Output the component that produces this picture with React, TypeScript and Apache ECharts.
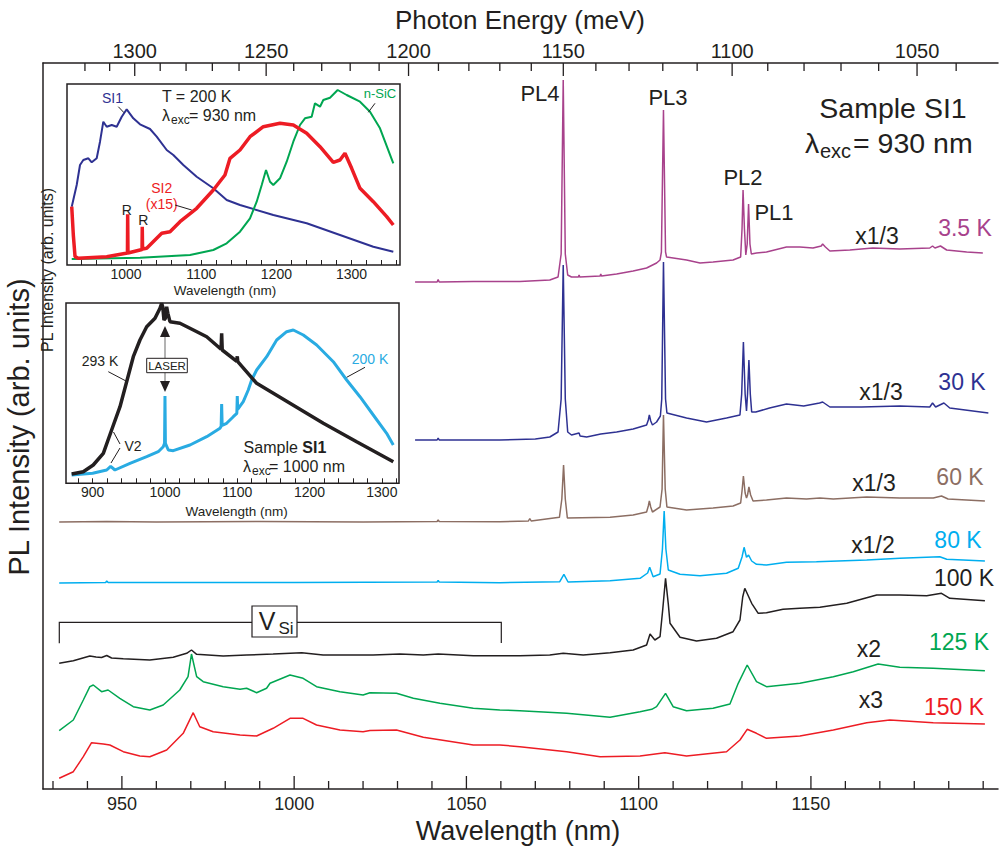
import React, { useEffect, useRef } from 'react';
import * as echarts from 'echarts';

const FONT = '"Liberation Sans", Arial, Helvetica, sans-serif';
const INK = '#231f20';
const HC = 1239841.98; // meV * nm

const C_MAG = '#a8428c';
const C_NAVY = '#2e3192';
const C_BROWN = '#8c6e63';
const C_CYAN = '#00aeef';
const C_GREEN = '#00a651';
const C_RED = '#ed1c24';
const C_BLACK = '#231f20';
const C_CYAN2 = '#29abe2';

// ---------- axes ----------
const MAIN_WL_MIN = 927.1;
const MAIN_WL_MAX = 1204.3;
const MAIN_Y_MAX = 726;
const bottomMajor = [950, 1000, 1050, 1100, 1150];
const bottomMinor = [930, 940, 950, 960, 970, 980, 990, 1000, 1010, 1020, 1030, 1040, 1050, 1060, 1070, 1080, 1090, 1100, 1110, 1120, 1130, 1140, 1150, 1160, 1170, 1180, 1190, 1200];
const energyMajor = [1300, 1250, 1200, 1150, 1100, 1050];
const energyMinor = [1320, 1310, 1300, 1290, 1280, 1270, 1260, 1250, 1240, 1230, 1220, 1210, 1200, 1190, 1180, 1170, 1160, 1150, 1140, 1130, 1120, 1110, 1100, 1090, 1080, 1070, 1060, 1050, 1040];

const in1Ticks = [940, 960, 980, 1000, 1020, 1040, 1060, 1080, 1100, 1120, 1140, 1160, 1180, 1200, 1220, 1240, 1260, 1280, 1300, 1320, 1340, 1360];
const in1Labels = [1000, 1100, 1200, 1300];
const in2Ticks = [880, 900, 920, 940, 960, 980, 1000, 1020, 1040, 1060, 1080, 1100, 1120, 1140, 1160, 1180, 1200, 1220, 1240, 1260, 1280, 1300, 1320];
const in2Labels = [900, 1000, 1100, 1200, 1300];

// ---------- main spectra [wavelength nm, intensity arb.] ----------
const t3_5K = [
  [1035.1, 507], [1041.5, 507], [1041.8, 509.5], [1042.1, 507], [1052.0, 507.5], [1065.5, 507.5], [1074.2, 509], [1076.6, 512], [1077.5, 535], [1078.1, 709], [1078.7, 535], [1079.4, 514], [1080.5, 512], [1082.5, 512], [1082.7, 514], [1082.9, 512], [1088.8, 513], [1089.0, 515], [1089.2, 513], [1093.6, 515], [1098.4, 518], [1102.3, 521], [1105.2, 526], [1106.2, 529], [1106.6, 537], [1107.2, 679], [1107.8, 537], [1108.1, 532], [1113.9, 529], [1117.8, 526], [1121.6, 527], [1127.4, 529], [1129.6, 532], [1130.0, 560], [1130.3, 599], [1130.7, 560], [1131.1, 534], [1131.5, 545], [1131.9, 585], [1132.3, 545], [1132.7, 535], [1134.2, 536], [1137.1, 537], [1142.9, 542], [1146.8, 542], [1150.6, 541], [1153.0, 543], [1153.4, 545], [1154.2, 542], [1155.5, 538], [1161.3, 539], [1168.0, 541], [1175.8, 540], [1184.5, 541], [1185.3, 543], [1186.0, 541], [1187.6, 543], [1189.4, 539], [1195.2, 537], [1199.9, 536],
];
const t30K = [
  [1035.1, 349], [1041.5, 349], [1041.8, 351], [1042.1, 349], [1059.7, 349], [1070.0, 350], [1074.2, 352], [1076.6, 357], [1077.5, 390], [1078.1, 524], [1078.7, 390], [1079.4, 357], [1080.5, 354], [1082.7, 356], [1083.0, 353], [1084.9, 352], [1089.0, 355], [1093.6, 357], [1098.4, 360], [1102.3, 364], [1102.8, 369], [1103.1, 374], [1103.5, 368], [1104.0, 364], [1105.2, 367], [1106.3, 373], [1106.7, 390], [1107.2, 527], [1107.8, 390], [1108.2, 376], [1113.9, 371], [1119.7, 367], [1125.5, 371], [1129.4, 374], [1129.9, 395], [1130.4, 447], [1130.9, 395], [1131.3, 378], [1131.6, 395], [1132.0, 429], [1132.4, 395], [1132.8, 377], [1134.0, 377], [1138.0, 381], [1142.9, 385], [1147.9, 383], [1152.5, 386], [1153.4, 387], [1155.5, 382], [1164.7, 382], [1175.8, 383], [1184.5, 382], [1185.3, 386], [1186.2, 382], [1188.6, 386], [1190.3, 381], [1201.5, 376],
];
const t60K = [
  [931.8, 267], [945.6, 267.5], [960.0, 267], [990.0, 267.5], [1020.0, 267], [1041.5, 267.5], [1041.8, 269], [1042.1, 267.5], [1059.7, 267.3], [1068.0, 268], [1068.4, 270.5], [1068.8, 268], [1077.0, 271.7], [1077.7, 290], [1078.2, 324], [1078.7, 290], [1079.3, 271], [1091.7, 271.7], [1098.4, 274], [1102.3, 277], [1102.8, 283], [1103.1, 288], [1103.5, 282], [1104.0, 277], [1106.2, 282], [1106.8, 300], [1107.2, 374], [1107.7, 300], [1108.2, 282], [1113.9, 279], [1121.6, 281], [1127.4, 283], [1129.6, 286], [1130.0, 298], [1130.4, 313], [1130.9, 296], [1131.3, 291], [1131.6, 294], [1132.0, 302], [1132.5, 294], [1133.2, 288], [1137.1, 289], [1142.9, 291], [1148.7, 290], [1152.6, 291], [1156.5, 290], [1166.2, 292], [1175.8, 291], [1185.5, 291], [1187.9, 293], [1189.8, 290], [1200.5, 288],
];
const t80K = [
  [931.8, 206], [945.3, 206.5], [945.6, 208], [946.0, 206.5], [970.0, 206.5], [1000.0, 206.5], [1041.5, 207], [1041.8, 208.5], [1042.1, 207], [1059.7, 206.3], [1077.1, 207.3], [1078.3, 214.7], [1079.5, 207], [1091.7, 208.3], [1100.4, 210.7], [1102.6, 216], [1103.2, 221.7], [1104.2, 212.3], [1106.2, 215], [1106.9, 240], [1107.4, 278], [1107.9, 240], [1108.6, 219], [1112.0, 214.7], [1117.8, 213.3], [1125.5, 215.7], [1128.9, 220.7], [1130.0, 232], [1130.6, 241.7], [1131.3, 231.7], [1131.9, 234], [1132.8, 228], [1134.2, 224.7], [1137.1, 224], [1142.9, 226.7], [1151.6, 227.3], [1166.2, 229], [1175.8, 230.7], [1187.4, 232.3], [1189.4, 229.7], [1200.5, 228],
];
const t100K = [
  [931.8, 125.7], [935.9, 128.3], [940.7, 133], [942.5, 132], [944.1, 131.5], [945.6, 133.5], [947.0, 131], [950.4, 130.3], [958.1, 129], [964.9, 131.7], [968.8, 135.7], [970.2, 139], [971.7, 134.7], [979.4, 133], [986.2, 134], [993.9, 135], [1002.2, 136.3], [1008.4, 134], [1022.9, 134], [1030.7, 135], [1037.5, 134], [1041.8, 135], [1052.0, 133.3], [1065.5, 133.3], [1074.2, 134], [1078.1, 135.7], [1083.9, 134], [1091.7, 136.3], [1098.4, 139], [1102.3, 144], [1103.3, 155], [1104.7, 149], [1106.2, 152.3], [1107.0, 180], [1107.8, 210.7], [1108.6, 185], [1109.1, 165.7], [1112.0, 151.7], [1116.8, 148], [1122.6, 150.7], [1127.4, 157.3], [1129.4, 169], [1130.2, 192], [1130.8, 200.7], [1132.8, 185.7], [1134.7, 175.7], [1137.1, 176.3], [1141.9, 179.7], [1146.8, 180.7], [1152.6, 181.7], [1160.4, 185.7], [1169.1, 194], [1175.8, 194], [1183.6, 193.3], [1187.9, 195.7], [1190.3, 190.7], [1200.5, 188.3],
];
const t125K = [
  [931.8, 58.3], [935.9, 69], [938.8, 89], [940.7, 102.3], [941.7, 104], [944.1, 97.3], [946.0, 99], [949.4, 90.7], [953.3, 82.3], [958.1, 79], [962.0, 84], [966.8, 99], [969.2, 112.3], [970.2, 135], [971.7, 112.3], [973.6, 107.3], [979.4, 102.3], [984.3, 99.7], [986.2, 100.7], [989.1, 96.3], [992.0, 100.7], [993.0, 105.7], [998.8, 114], [1002.6, 110.7], [1006.5, 102.3], [1013.3, 97.3], [1020.0, 94], [1022.0, 96.3], [1029.7, 95.7], [1034.6, 90.7], [1042.3, 85.7], [1052.0, 80.7], [1059.7, 79], [1065.5, 78.3], [1079.1, 75.7], [1091.7, 71.7], [1100.4, 77.3], [1103.8, 79.7], [1105.2, 82.3], [1107.8, 95.7], [1110.0, 82.3], [1113.9, 78.3], [1121.6, 80.7], [1126.5, 85], [1128.9, 105.7], [1131.5, 124], [1134.2, 107.3], [1137.1, 102.3], [1146.8, 105.7], [1156.5, 112.3], [1162.3, 117.3], [1169.5, 125], [1175.8, 121.7], [1185.5, 120.7], [1200.5, 118.3],
];
const t150K = [
  [931.8, 10.7], [935.9, 17.3], [938.8, 32.3], [941.2, 46.3], [944.6, 45], [946.5, 44], [950.4, 37.3], [955.2, 33], [958.1, 32.3], [963.0, 39], [967.8, 55.7], [970.7, 76.3], [972.6, 62.3], [976.5, 57.3], [984.3, 54], [989.1, 53], [993.9, 60.7], [998.8, 70.7], [1002.6, 70.7], [1006.5, 64], [1013.3, 59], [1020.0, 57.3], [1022.0, 58.5], [1029.7, 59], [1037.5, 51.7], [1052.0, 44], [1059.7, 44], [1065.5, 42.3], [1079.1, 37.3], [1088.8, 32.3], [1100.4, 33], [1107.6, 36.3], [1113.9, 33], [1125.5, 37.3], [1129.4, 49], [1131.5, 59.7], [1134.2, 55.7], [1137.1, 50.7], [1146.8, 53], [1156.5, 59], [1166.2, 66.3], [1172.9, 69], [1185.5, 66.3], [1200.5, 65],
];

// ---------- inset 1 (T = 200 K, 930 nm) ----------
const IN1_MIN = 921.5, IN1_MAX = 1364.4, IN1_YMAX = 181;
const si1 = [
  [927.8, 58.3], [934.4, 80], [938.8, 100], [943.2, 105], [949.9, 106.7], [954.4, 102.7], [961.0, 106.7], [965.4, 123.3], [969.8, 143.3], [974.3, 138.3], [981.0, 140], [987.6, 138.3], [994.3, 148.3], [1000.9, 155.7], [1009.7, 146.7], [1018.6, 140.7], [1031.9, 136], [1040.8, 128.3], [1054.1, 115], [1062.9, 110], [1076.2, 100], [1094.0, 88.3], [1116.1, 76.7], [1133.9, 65], [1151.6, 60], [1195.9, 50], [1240.3, 41.7], [1284.6, 30], [1328.9, 18.3], [1355.5, 13.3],
];
const si2x15 = [
  [927.8, 58.3], [929.9, 30], [932.2, 8.3], [936.6, 6.7], [974.3, 8.3], [1000.0, 11.7], [1001.9, 12], [1002.2, 50.7], [1002.6, 12], [1018.6, 15], [1021.3, 15.5], [1021.6, 38.3], [1022.0, 16], [1027.5, 16.7], [1040.8, 26.7], [1047.5, 31.7], [1058.5, 33.3], [1071.8, 43.3], [1094.0, 56.7], [1116.1, 75], [1131.6, 90], [1138.3, 106.7], [1151.6, 115], [1164.9, 128.3], [1182.6, 138.3], [1204.8, 141.7], [1222.5, 140], [1240.3, 131.7], [1258.0, 118.3], [1275.7, 102.7], [1284.6, 105], [1291.2, 111.7], [1300.1, 96.7], [1311.2, 76.7], [1328.9, 63.3], [1346.7, 48.3], [1355.5, 40],
];
const nSiC = [
  [927.8, 6], [1018.6, 7.3], [1085.1, 10], [1116.1, 15], [1133.9, 21.7], [1151.6, 33.3], [1164.9, 46.7], [1173.8, 63.3], [1180.5, 80], [1186.2, 95], [1191.5, 83.3], [1195.9, 80], [1204.8, 86.7], [1213.7, 103.3], [1222.5, 123.3], [1231.4, 140], [1238.0, 146.7], [1246.9, 148.3], [1251.3, 161.7], [1258.0, 158.3], [1262.4, 165], [1271.3, 167.3], [1281.5, 175], [1293.5, 170], [1311.2, 163.3], [1324.5, 153.3], [1337.8, 136.7], [1355.5, 101.7],
];

// ---------- inset 2 (1000 nm excitation) ----------
const IN2_MIN = 863.1, IN2_MAX = 1323.7, IN2_YMAX = 180.3;
const k293 = [
  [870.9, 9.3], [887.0, 11.6], [900.8, 18.3], [914.7, 30], [926.2, 53.3], [937.8, 76.6], [947.0, 101.6], [956.2, 126.6], [965.4, 143.3], [974.7, 156.6], [986.2, 165], [993.1, 175], [995.4, 180], [997.0, 176], [998.6, 163.3], [1000.5, 165], [1002.3, 176.6], [1004.0, 170], [1006.9, 161.6], [1020.7, 160], [1040.0, 153], [1057.7, 146.6], [1077.6, 134], [1078.4, 150], [1079.2, 133.3], [1099.3, 122], [1100.0, 127], [1100.7, 121.6], [1126.8, 100], [1172.9, 80], [1219.0, 60], [1265.1, 41.6], [1315.8, 21.6],
];
const k200 = [
  [870.9, 8.3], [900.0, 10], [919.4, 13.3], [924.9, 17], [930.8, 13.3], [951.6, 20], [974.7, 26.6], [990.7, 31.6], [997.6, 36.6], [999.4, 40], [1000.0, 87.3], [1000.6, 40], [1004.6, 33.3], [1011.5, 32.6], [1034.6, 38.3], [1057.7, 46.6], [1076.1, 55], [1077.7, 57], [1078.4, 79.3], [1079.1, 58], [1085.3, 60], [1094.5, 66.6], [1099.4, 70], [1100.0, 87.3], [1100.6, 74], [1108.3, 81.6], [1115.2, 93.3], [1119.9, 103.3], [1126.8, 113.3], [1140.7, 126.6], [1154.5, 143.3], [1168.3, 151.6], [1177.5, 153.3], [1191.3, 148.3], [1209.8, 138.3], [1232.8, 121.6], [1251.3, 103.3], [1269.7, 86.6], [1288.1, 68.3], [1306.6, 50], [1315.8, 38.3],
];

// ---------- helpers for annotations ----------
type Opt = { color?: string; align?: string; va?: string; weight?: string; rot?: number };
const T = (text: string, x: number, y: number, size: number, o: Opt = {}) => ({
  type: 'text', x, y, z: 100, silent: true, rotation: o.rot || 0,
  style: {
    text, fontSize: size, fontFamily: FONT, fill: o.color || INK,
    align: o.align || 'center', verticalAlign: o.va || 'middle', fontWeight: o.weight || 'normal',
  },
});
const L = (x1: number, y1: number, x2: number, y2: number, color = INK, w = 1) => ({
  type: 'line', z: 100, silent: true, shape: { x1, y1, x2, y2 }, style: { stroke: color, lineWidth: w },
});
const plain = (v: number) => String(v);

function buildOption() {
  const line = (data: number[][], color: string, width: number, xi: number, yi: number) => ({
    type: 'line', data, xAxisIndex: xi, yAxisIndex: yi, showSymbol: false, symbol: 'none', silent: true,
    lineStyle: { color, width }, itemStyle: { color }, z: 3,
  });

  // [wavelength, y, major, label, direction]
  const tickData: number[][] = [];
  bottomMinor.forEach((w) => {
    const maj = bottomMajor.includes(w);
    tickData.push([w, 0, maj ? 1 : 0, maj ? w : 0, -1]);
  });
  energyMinor.forEach((e) => {
    const maj = energyMajor.includes(e);
    tickData.push([HC / e, MAIN_Y_MAX, maj ? 1 : 0, maj ? e : 0, 1]);
  });

  const hiddenY = (gi: number, max: number, showLine = false) => ({
    type: 'value', gridIndex: gi, min: 0, max,
    axisLine: { show: showLine, lineStyle: { color: INK, width: 1.5 } },
    axisTick: { show: false }, axisLabel: { show: false }, splitLine: { show: false },
  });

  const insetX = (gi: number, min: number, max: number, ticks: number[], labels: number[]) => ({
    type: 'value', gridIndex: gi, min, max, position: 'bottom',
    axisLine: { show: false },
    axisTick: { show: true, inside: true, length: 5, customValues: ticks, lineStyle: { color: INK, width: 1 } },
    axisLabel: { show: true, customValues: labels, formatter: plain, fontSize: 14, fontFamily: FONT, color: INK, margin: 2 },
    splitLine: { show: false },
  });

  const graphic: any[] = [
    // main titles
    T('Photon Energy (meV)', 520, 20, 26),
    T('Wavelength (nm)', 518, 831, 27),
    T('PL Intensity (arb. units)', 19, 427, 29, { rot: Math.PI / 2 }),
    // peak labels
    T('PL4', 540, 93, 22), T('PL3', 668, 97, 22), T('PL2', 743, 177, 22), T('PL1', 774, 212, 22),
    // sample
    T('Sample SI1', 893, 108, 28.5),
    T('λ', 805, 143, 28.5, { align: 'left' }),
    T('exc', 820, 151, 20, { align: 'left' }),
    T('= 930 nm', 853, 143, 28.5, { align: 'left' }),
    // temperature labels
    T('x1/3', 877, 236, 23), T('3.5 K', 965, 228, 23, { color: C_MAG }),
    T('x1/3', 881, 392, 23), T('30 K', 962, 382, 23, { color: C_NAVY }),
    T('x1/3', 874, 483, 23), T('60 K', 960, 477, 23, { color: C_BROWN }),
    T('x1/2', 873, 545, 23), T('80 K', 958, 540, 23, { color: C_CYAN }),
    T('100 K', 964, 578, 23),
    T('x2', 869, 649, 23), T('125 K', 959, 642, 23, { color: C_GREEN }),
    T('x3', 871, 700, 23), T('150 K', 954, 707, 23, { color: C_RED }),
    // V_Si bracket
    { type: 'polyline', z: 100, silent: true, shape: { points: [[59.3, 643.3], [59.3, 622.3], [501.3, 622.3], [501.3, 643]] }, style: { stroke: INK, lineWidth: 1.2, fill: null } },
    { type: 'rect', z: 101, silent: true, shape: { x: 252, y: 606, width: 45, height: 31 }, style: { fill: '#fff', stroke: INK, lineWidth: 1.2 } },
    { ...T('V', 267, 621, 25), z: 102 },
    { ...T('Si', 286, 628, 17), z: 102 },

    // inset 1 annotations
    T('PL Intensity (arb. units)', 47, 270, 16, { rot: Math.PI / 2 }),
    T('SI1', 112.5, 98.3, 14, { color: C_NAVY }),
    L(118.3, 106.7, 124, 112.7),
    T('T = 200 K', 196.7, 96.7, 16),
    T('λ', 162, 115, 16, { align: 'left' }),
    T('exc', 171, 120, 12, { align: 'left' }),
    T('= 930 nm', 189, 115, 16, { align: 'left' }),
    T('SI2', 161.7, 188.3, 14, { color: C_RED }),
    T('(x15)', 161.7, 204, 14, { color: C_RED }),
    L(175, 205, 191.7, 210),
    T('R', 126.7, 210, 14), T('R', 143.3, 220, 14),
    T('n-SiC', 380, 93.3, 13, { color: C_GREEN }),
    L(375, 103.3, 368.3, 112.3),
    T('Wavelength (nm)', 225, 290, 13.5),

    // inset 2 annotations
    T('293 K', 100, 361, 14),
    L(108.3, 371.7, 127.3, 381.7),
    L(165, 334, 165, 382, '#9a9a9a', 1.5),
    { type: 'polygon', z: 100, silent: true, shape: { points: [[165, 326], [160, 337], [170, 337]] }, style: { fill: INK } },
    { type: 'polygon', z: 100, silent: true, shape: { points: [[165, 392], [160, 381], [170, 381]] }, style: { fill: INK } },
    { type: 'rect', z: 101, silent: true, shape: { x: 146.7, y: 358.3, width: 40.6, height: 14.4 }, style: { fill: '#fff', stroke: INK, lineWidth: 1 } },
    { ...T('LASER', 167, 365.8, 11.5), z: 102 },
    T('V2', 133, 446, 14),
    L(120, 444, 113.5, 432), L(120, 448, 111, 463),
    T('200 K', 370, 359, 14, { color: C_CYAN2 }),
    L(365, 367.3, 346.7, 377.3),
    T('Sample ', 243.6, 447.5, 16, { align: 'left' }),
    T('SI1', 302.3, 447.5, 16, { align: 'left', weight: 'bold' }),
    T('λ', 243, 466, 16, { align: 'left' }),
    T('exc', 252, 471, 12, { align: 'left' }),
    T('= 1000 nm', 269, 466, 16, { align: 'left' }),
    T('Wavelength (nm)', 236.7, 511, 13.5),
  ];

  return {
    animation: false,
    backgroundColor: '#fff',
    grid: [
      { left: 43, right: 2, top: 63, bottom: 59 },
      { left: 67, top: 84, width: 333, height: IN1_YMAX, show: true, borderColor: INK, borderWidth: 1.5, backgroundColor: '#fff' },
      { left: 66, top: 303, width: 333, height: IN2_YMAX, show: true, borderColor: INK, borderWidth: 1.5, backgroundColor: '#fff' },
    ],
    xAxis: [
      {
        type: 'value', gridIndex: 0, min: MAIN_WL_MIN, max: MAIN_WL_MAX, position: 'bottom',
        axisLine: { show: true, lineStyle: { color: INK, width: 1.5 } },
        axisTick: { show: false }, axisLabel: { show: false },
        splitLine: { show: false },
      },
      {
        type: 'value', gridIndex: 0, min: MAIN_WL_MIN, max: MAIN_WL_MAX, position: 'top',
        axisLine: { show: true, lineStyle: { color: INK, width: 1.5 } },
        axisTick: { show: false }, axisLabel: { show: false }, splitLine: { show: false },
      },
      insetX(1, IN1_MIN, IN1_MAX, in1Ticks, in1Labels),
      insetX(2, IN2_MIN, IN2_MAX, in2Ticks, in2Labels),
    ],
    yAxis: [hiddenY(0, MAIN_Y_MAX, true), hiddenY(1, IN1_YMAX), hiddenY(2, IN2_YMAX)],
    series: [
      line(t150K, C_RED, 1.5, 0, 0),
      line(t125K, C_GREEN, 1.5, 0, 0),
      line(t100K, C_BLACK, 1.5, 0, 0),
      line(t80K, C_CYAN, 1.5, 0, 0),
      line(t60K, C_BROWN, 1.5, 0, 0),
      line(t30K, C_NAVY, 1.5, 0, 0),
      line(t3_5K, C_MAG, 1.5, 0, 0),
      line(si1, C_NAVY, 2, 2, 1),
      line(nSiC, C_GREEN, 2, 2, 1),
      line(si2x15, C_RED, 3.5, 2, 1),
      line(k200, C_CYAN2, 3, 3, 2),
      line(k293, C_BLACK, 3.5, 3, 2),
      {
        type: 'custom', xAxisIndex: 0, yAxisIndex: 0, clip: false, silent: true, z: 5,
        data: tickData,
        renderItem: (_params: any, api: any) => {
          const p = api.coord([api.value(0), api.value(1)]);
          const major = api.value(2) === 1;
          const lab = api.value(3);
          const dir = api.value(4);
          const len = major ? 13 : 8;
          const children: any[] = [
            { type: 'line', shape: { x1: p[0], y1: p[1], x2: p[0], y2: p[1] + dir * len }, style: { stroke: INK, lineWidth: 1.3 } },
          ];
          if (lab) {
            const top = dir > 0;
            children.push({
              type: 'text', x: p[0], y: top ? p[1] - 12 : p[1] + 15,
              style: { text: String(lab), fontSize: top ? 20 : 18, fontFamily: FONT, fill: INK, align: 'center', verticalAlign: 'middle' },
            });
          }
          return { type: 'group', children };
        },
      },
    ],
    graphic,
  };
}

export default function App() {
  const ref = useRef<HTMLDivElement>(null);
  useEffect(() => {
    if (!ref.current) return;
    const chart = echarts.init(ref.current, undefined, { renderer: 'svg' });
    chart.setOption(buildOption() as any);
    return () => chart.dispose();
  }, []);
  return <div ref={ref} style={{ position: 'absolute', left: 0, top: 0, width: 1000, height: 848, background: '#fff' }} />;
}
